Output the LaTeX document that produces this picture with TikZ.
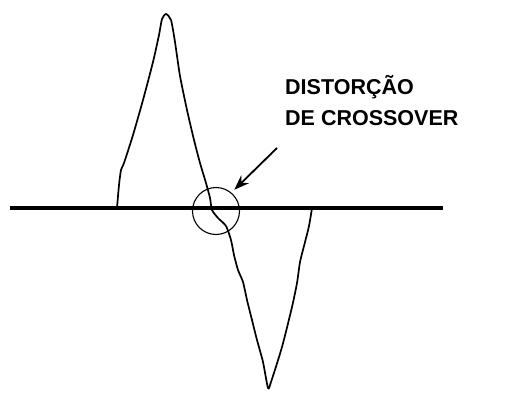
\documentclass[tikz,border=0pt]{standalone}
\usepackage{fontspec}
\setmainfont{Liberation Sans}
\usetikzlibrary{positioning,arrows.meta,calc}

\begin{document}
\begin{tikzpicture}[
  x=1pt, y=-1pt,
  eixo/.style={line width=3.5pt, black},
  onda/.style={line width=1.7pt, black, line join=round},
  marca/.style={draw, circle, line width=1.1pt, minimum size=47pt, inner sep=0pt},
  rotulo/.style={font=\fontsize{21.5}{31}\selectfont\bfseries, align=left, inner sep=0pt, anchor=north west},
  seta/.style={-{Stealth[length=15pt, width=11pt]}, line width=1.8pt, black}
]
\useasboundingbox (0,0) rectangle (509,394);

% Horizontal axis
\draw[eixo] (10,208) -- (443,208);

% Distorted waveform
\draw[onda] plot[smooth, tension=0.4] coordinates {
  (117,208) (119,185) (121,170) (124,163) (133,135) (143,100) (153,62)
  (159,35) (162,19) (166,14) (171,20) (175,42) (180,76) (187,110)
  (194,140) (200,163) (206,183) (210,198) (212,210) (218,218) (226,226)
  (231,240) (234,255) (238,270) (243,282) (247,300) (252,320) (257,340)
  (263,362) (268,388) (271,382) (282,347) (292,307) (297,283) (300,262)
  (304,246) (309,226) (312,208)};

% Crossover region
\node[marca] (xo) at (216,211) {};

% Label
\node[rotulo] (txt) at (285,75) {DISTORÇÃO\\DE CROSSOVER};

% Pointer
\coordinate (pa) at (277,148);
\draw[seta, shorten >=4pt] (pa) -- (xo.50);
\end{tikzpicture}
\end{document}
